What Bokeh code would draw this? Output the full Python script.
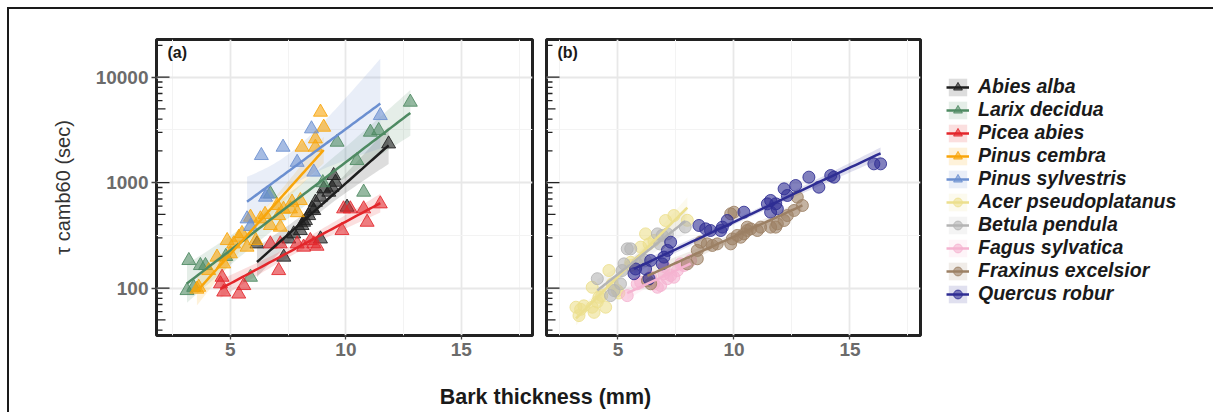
import numpy as np
from bokeh.plotting import figure
from bokeh.models import (Range1d, FixedTicker, Legend, LegendItem, Label,
                          ColumnDataSource, NumeralTickFormatter)
from bokeh.layouts import row, column
from bokeh.embed import file_html
from bokeh.resources import INLINE

# ---------------- data ----------------
abies_x = [11.85, 9.47, 9.55, 9.40, 9.26, 9.04, 8.90, 8.68, 8.61, 8.54, 8.39, 8.25, 8.17, 8.10, 8.03, 7.74, 7.53, 8.90, 10.05, 7.31, 6.15]
abies_y = [2330, 1170, 1010, 906, 813, 874, 729, 653, 545, 565, 488, 438, 422, 393, 352, 327, 293, 293, 586, 197, 263]

larix_x = [3.12, 3.20, 3.41, 3.70, 3.92, 4.80, 5.87, 6.73, 9.00, 9.62, 10.48, 10.77, 11.06, 11.42, 12.79]
larix_y = [95, 183, 102, 164, 164, 200, 127, 784, 1000, 2420, 1622, 813, 3011, 3122, 5795]

picea_x = [4.57, 4.64, 4.71, 5.36, 5.58, 6.73, 7.09, 7.16, 7.89, 8.17, 8.46, 8.61, 8.75, 9.83, 9.90, 10.19, 10.77, 10.92, 11.49]
picea_y = [110, 127, 92, 88, 106, 263, 147, 263, 263, 245, 283, 263, 250, 352, 565, 565, 565, 422, 630]

cembra_x = [3.55, 3.63, 4.06, 4.42, 4.71, 4.86, 5.00, 5.14, 5.36, 5.50, 5.72, 5.87, 6.10, 6.30, 6.50, 6.73, 7.02, 7.09, 7.16, 7.30, 7.60, 7.67, 7.90, 8.03, 8.10, 8.68, 8.68, 9.04, 8.90]
cembra_y = [98, 102, 147, 197, 170, 283, 212, 263, 304, 330, 245, 471, 283, 454, 500, 393, 608, 488, 379, 560, 565, 653, 520, 678, 2170, 2603, 2170, 3357, 4660]

sylv_x = [5.72, 5.87, 6.34, 6.52, 6.60, 7.28, 7.89, 8.51, 8.61, 11.49]
sylv_y = [454, 385, 1810, 729, 780, 2170, 1560, 3240, 1260, 4330]

acer_x = [3.19, 3.32, 3.39, 3.53, 3.89, 3.89, 3.97, 4.11, 4.18, 4.30, 4.47, 4.61, 4.75, 4.97, 5.04, 5.55, 5.55, 5.98, 6.19, 6.34, 6.55, 7.05, 7.41, 7.99]
acer_y = [66, 55, 63, 68, 66, 102, 59, 74, 82, 85, 66, 147, 110, 95, 90, 164, 176, 245, 327, 263, 283, 438, 488, 440]

betula_x = [4.11, 4.68, 4.83, 5.11, 5.18, 5.26, 5.40, 5.55, 5.83, 5.98, 6.19, 6.70, 6.80, 6.91, 7.13, 7.90]
betula_y = [123, 85, 95, 110, 147, 170, 236, 236, 170, 183, 183, 327, 263, 316, 327, 380]

fagus_x = [5.40, 5.83, 5.98, 6.41, 6.55, 6.70, 6.84, 6.98, 7.00, 7.13, 7.27, 7.41, 7.56, 7.70, 7.84, 8.13]
fagus_y = [85, 110, 114, 127, 110, 102, 106, 137, 160, 123, 132, 127, 147, 170, 164, 183]

fraxinus_x = [6.27, 6.41, 7.99, 8.42, 8.42, 8.56, 8.85, 9.07, 9.28, 9.86, 9.86, 9.93, 10.0, 10.14, 10.29, 10.43, 10.57, 10.57, 10.72, 11.01, 11.15, 11.58, 11.80, 11.87, 12.16, 12.30, 12.59, 12.73, 12.95]
fraxinus_y = [118, 110, 170, 228, 190, 273, 263, 254, 263, 263, 507, 293, 525, 316, 304, 327, 352, 379, 365, 352, 379, 379, 379, 407, 438, 488, 545, 729, 608]

quercus_x = [5.69, 5.76, 6.19, 6.34, 6.41, 6.91, 6.98, 7.13, 7.27, 8.49, 8.78, 8.99, 9.43, 9.50, 9.71, 10.43, 11.44, 11.58, 11.58, 11.80, 11.87, 12.16, 12.30, 12.66, 13.23, 13.66, 14.17, 14.31, 16.03, 16.32]
quercus_y = [137, 152, 152, 123, 183, 170, 197, 228, 273, 393, 365, 352, 352, 379, 438, 525, 630, 678, 525, 630, 565, 874, 756, 940, 1128, 906, 1169, 1128, 1508, 1508]

conifer_names = ["Abies alba", "Larix decidua", "Picea abies", "Pinus cembra", "Pinus sylvestris"]
conifer_colors = ["#1e1e1e", "#4e8a62", "#e3262b", "#f8a50a", "#6b8fd0"]
conifer_data = [(abies_x, abies_y), (larix_x, larix_y), (picea_x, picea_y),
                (cembra_x, cembra_y), (sylv_x, sylv_y)]

broad_names = ["Acer pseudoplatanus", "Betula pendula", "Fagus sylvatica", "Fraxinus excelsior", "Quercus robur"]
broad_colors = ["#ecdf8e", "#b4b4b4", "#f5b3d0", "#9c8064", "#2e2d93"]
broad_data = [(acer_x, acer_y), (betula_x, betula_y), (fagus_x, fagus_y),
              (fraxinus_x, fraxinus_y), (quercus_x, quercus_y)]

x_ticks = [5, 10, 15]
x_minor = [2.5, 7.5, 12.5, 17.5]
y_ticks = [100, 1000, 10000]
y_minor_grid = [10 ** 2.5, 10 ** 3.5]

FONT = "Liberation Sans"
Y_START, Y_END = 35.6, 22750
H = 368


def fit(xs, ys):
    x = np.array(xs, dtype=float)
    ly = np.log10(np.array(ys, dtype=float))
    n = len(x)
    b, a = np.polyfit(x, ly, 1)
    xg = np.linspace(x.min(), x.max(), 60)
    yh = a + b * xg
    res = ly - (a + b * x)
    s = np.sqrt((res ** 2).sum() / (n - 2))
    sxx = ((x - x.mean()) ** 2).sum()
    se = s * np.sqrt(1.0 / n + (xg - x.mean()) ** 2 / sxx)
    df = n - 2
    t = 1.96 + 2.5 / df + 2.0 / df ** 2
    return xg, 10 ** yh, 10 ** (yh - t * se), 10 ** (yh + t * se)


def make_panel(width, x_start, x_end, mb_left, mb_right, show_y):
    p = figure(width=width, height=H, x_range=Range1d(x_start, x_end),
               y_range=Range1d(Y_START, Y_END), y_axis_type="log",
               output_backend="svg", toolbar_location=None,
               min_border_left=mb_left, min_border_right=mb_right,
               min_border_top=30, min_border_bottom=H - 30 - 296)
    p.background_fill_color = "white"
    p.border_fill_color = "white"
    p.outline_line_color = "#222222"
    p.outline_line_width = 3
    p.xaxis.ticker = FixedTicker(ticks=x_ticks, minor_ticks=x_minor)
    p.yaxis.ticker = FixedTicker(ticks=y_ticks, minor_ticks=y_minor_grid)
    p.yaxis.formatter = NumeralTickFormatter(format="0")
    for ax in (p.xaxis, p.yaxis):
        ax.axis_line_color = None
        ax.major_tick_in = 0
        ax.major_tick_out = 5
        ax.minor_tick_in = 0
        ax.minor_tick_out = 0
        ax.major_tick_line_color = "#444444"
        ax.major_tick_line_width = 1.3
        ax.major_label_text_font = FONT
        ax.major_label_text_font_style = "bold"
        ax.major_label_text_font_size = "19px"
        ax.major_label_text_color = "#6b6b6b"
        ax.major_label_standoff = 3
    p.xaxis.major_tick_out = 4
    for g in (p.xgrid, p.ygrid):
        g.grid_line_color = "#e8e8e8"
        g.grid_line_width = 1.8
        g.minor_grid_line_color = "#f3f3f3"
        g.minor_grid_line_width = 1.0
    if show_y:
        p.yaxis.axis_label = "\u03c4 camb60 (sec)"
        p.yaxis.axis_label_text_font = FONT
        p.yaxis.axis_label_text_font_style = "normal"
        p.yaxis.axis_label_text_font_size = "20px"
        p.yaxis.axis_label_text_color = "#333333"
        p.yaxis.axis_label_standoff = 19
    else:
        p.yaxis.visible = False
    # annotation_logticks on the left side
    long_v = [v for v in y_ticks]
    mid_v = [5 * 10 ** k for k in range(1, 5) if Y_START < 5 * 10 ** k < Y_END]
    short_v = [m * 10 ** k for k in range(1, 5) for m in (2, 3, 4, 6, 7, 8, 9)
               if Y_START < m * 10 ** k < Y_END]
    for vals, ln in ((long_v, 13), (mid_v, 9), (short_v, 6)):
        p.ray(x=[x_start] * len(vals), y=vals, length=ln, angle=0,
              length_units="screen", line_color="#222222", line_width=1.3)
    return p


W_A = 147 + 376 + 6
W_B = 8 + 374 + 5
W_L = 288
p_a = make_panel(W_A, 1.80, 18.08, 147, 6, True)
p_b = make_panel(W_B, 1.92, 18.04, 8, 5, False)


def draw_group(p, names, colors, data, marker, size):
    for col, (xs, ys) in zip(colors, data):
        xg, yh, lo, hi = fit(xs, ys)
        p.varea(x=xg, y1=lo, y2=hi, fill_color=col, fill_alpha=0.15)
    for col, (xs, ys) in zip(colors, data):
        p.scatter(x=xs, y=ys, marker=marker, size=size, fill_color=col,
                  fill_alpha=0.6, line_color=col, line_alpha=0.85, line_width=1)
    for col, (xs, ys) in zip(colors, data):
        xg, yh, lo, hi = fit(xs, ys)
        p.line(x=xg, y=yh, line_color=col, line_width=2.5)


draw_group(p_a, conifer_names, conifer_colors, conifer_data, "triangle", 14)
draw_group(p_b, broad_names, broad_colors, broad_data, "circle", 12)

# legend-only figure: key renderers hold no visible point
p_l = figure(width=W_L, height=H, x_range=Range1d(0, 1), y_range=Range1d(0, 1),
             output_backend="svg", toolbar_location=None,
             min_border_left=0, min_border_top=30, min_border_right=0,
             min_border_bottom=H - 30 - 296)
p_l.axis.visible = False
p_l.grid.visible = False
p_l.outline_line_color = None
p_l.background_fill_alpha = 0
items = []
for nm, col, mk, sz in ([(n, c, "triangle", 14) for n, c in zip(conifer_names, conifer_colors)] +
                        [(n, c, "circle", 12) for n, c in zip(broad_names, broad_colors)]):
    src = ColumnDataSource(dict(x=np.array([np.nan]), y=np.array([np.nan]),
                                y1=np.array([np.nan]), y2=np.array([np.nan])))
    r1 = p_l.varea(x="x", y1="y1", y2="y2", source=src, fill_color=col, fill_alpha=0.15)
    r2 = p_l.line(x="x", y="y", source=src, line_color=col, line_width=2.5)
    r3 = p_l.scatter(x="x", y="y", source=src, marker=mk, size=sz,
                     fill_color=col, fill_alpha=0.6, line_color=col, line_alpha=0.85)
    items.append(LegendItem(label=nm, renderers=[r1, r2, r3]))

legend = Legend(items=items, location=(21, 30), padding=0, margin=0,
                spacing=0, glyph_width=23, glyph_height=22, label_height=23,
                label_standoff=9, border_line_color=None, background_fill_alpha=0,
                label_text_font=FONT, label_text_font_style="bold italic",
                label_text_font_size="19.5px", label_text_color="#1a1a1a")
p_l.add_layout(legend)

for p, lab in ((p_a, "(a)"), (p_b, "(b)")):
    p.add_layout(Label(x=p.x_range.start, y=Y_END, x_offset=11, y_offset=-4,
                       text=lab, text_baseline="top", text_align="left",
                       text_font=FONT, text_font_style="bold",
                       text_font_size="16px", text_color="#1a1a1a"))

p_t = figure(width=W_A + W_B + W_L, height=35, x_range=Range1d(0, 1), y_range=Range1d(0, 1),
             output_backend="svg", toolbar_location=None, min_border=0)
p_t.axis.visible = False
p_t.grid.visible = False
p_t.outline_line_color = None
p_t.add_layout(Label(x=536, y=16, x_units="screen", y_units="screen",
                     text="Bark thickness (mm)", text_align="center",
                     text_baseline="middle", text_font=FONT, text_font_style="bold",
                     text_font_size="21.5px", text_color="#1a1a1a"))

layout = column(row(p_a, p_b, p_l), p_t,
                styles={"border-top": "2px solid #1a1a1a", "border-left": "2px solid #1a1a1a",
                        "margin-left": "7px", "margin-top": "7px"})

open("out.html", "w").write(file_html(layout, INLINE))
